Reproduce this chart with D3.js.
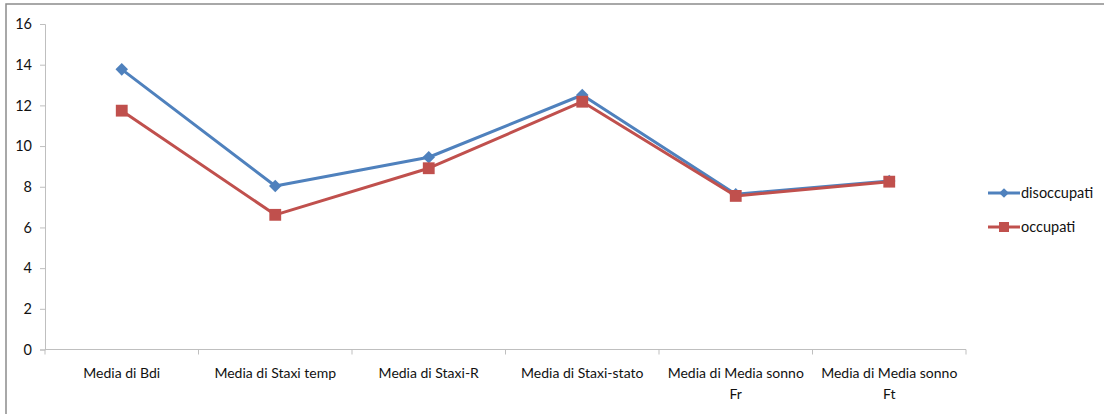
<!DOCTYPE html>
<html><head><meta charset="utf-8">
<script src="https://cdn.jsdelivr.net/npm/d3@7"></script>
<style>
html,body{margin:0;padding:0;background:#fff;}
svg{display:block;}
text{font-family:Lato,"Open Sans",sans-serif;fill:#111;}
</style></head>
<body>
<svg id="chart" width="1104" height="414"></svg>
<script>
const categories = ["Media di Bdi","Media di Staxi temp","Media di Staxi-R","Media di Staxi-stato","Media di Media sonno Fr","Media di Media sonno Ft"];
const disoccupati = [13.77, 8.04, 9.45, 12.51, 7.63, 8.28];
const occupati = [11.74, 6.62, 8.91, 12.18, 7.55, 8.25];
const yTicks = [0,2,4,6,8,10,12,14,16];
const seriesNames = ["disoccupati","occupati"];

(function(){
const svg = d3.select("#chart");
const W = 1104, H = 414;
const pL = 45, pR = 966, pT = 24, pB = 349.5;

svg.append("rect").attr("x",6).attr("y",4).attr("width",W+10).attr("height",H+10)
  .attr("fill","none").attr("stroke","#8c8c8c").attr("stroke-width",1.5);

const x = d3.scaleBand().domain(categories).range([pL,pR]).padding(0);
const y = d3.scaleLinear().domain([0,16]).range([pB,pT]);

const yAxis = svg.append("g").attr("transform",`translate(${pL},0)`)
  .call(d3.axisLeft(y).tickValues(yTicks).tickSize(5).tickPadding(8));
yAxis.select(".domain").attr("stroke","#bfbfbf");
yAxis.selectAll(".tick line").attr("stroke","#bfbfbf");
yAxis.selectAll("text").attr("font-size","14.5px").attr("fill","#111");

const xAxis = svg.append("g").attr("transform",`translate(0,${pB})`)
  .call(d3.axisBottom(x).tickSize(0).tickPadding(0).tickFormat(""));
xAxis.select(".domain").attr("stroke","#bfbfbf").attr("d",`M${pL},0H${pR}`);
const bounds = categories.map(c=>x(c)).concat([pR]);
xAxis.selectAll(".bt").data(bounds).enter().append("line")
  .attr("x1",d=>d).attr("x2",d=>d).attr("y1",0).attr("y2",5).attr("stroke","#bfbfbf");

const maxW = x.bandwidth()-12;
categories.forEach(c=>{
  const cx = x(c)+x.bandwidth()/2;
  const t = svg.append("text").attr("x",cx).attr("y",pB+28)
    .attr("text-anchor","middle").attr("font-size","14px");
  const words = c.split(" ");
  let line = [];
  let ts = t.append("tspan").attr("x",cx).attr("dy",0);
  words.forEach(w=>{
    line.push(w);
    ts.text(line.join(" "));
    if (ts.node().getComputedTextLength() > maxW && line.length>1){
      line.pop(); ts.text(line.join(" "));
      line=[w];
      ts = t.append("tspan").attr("x",cx).attr("dy","1.55em").text(w);
    }
  });
});

const colors = {disoccupati:"#4F81BD", occupati:"#C0504D"};
const data = {disoccupati, occupati};
const lineGen = d3.line().x((d,i)=>x(categories[i])+x.bandwidth()/2).y(d=>y(d));

seriesNames.forEach(s=>{
  svg.append("path").datum(data[s]).attr("d",lineGen).attr("fill","none")
    .attr("stroke",colors[s]).attr("stroke-width",3).attr("stroke-linejoin","round");
});
const diamond = d3.symbol().type(d3.symbolDiamond2).size(100);
const square = d3.symbol().type(d3.symbolSquare).size(140);
svg.selectAll(".md").data(disoccupati).enter().append("path")
  .attr("transform",(d,i)=>`translate(${x(categories[i])+x.bandwidth()/2},${y(d)})`)
  .attr("d",diamond).attr("fill",colors.disoccupati);
svg.selectAll(".ms").data(occupati).enter().append("path")
  .attr("transform",(d,i)=>`translate(${x(categories[i])+x.bandwidth()/2},${y(d)})`)
  .attr("d",square).attr("fill",colors.occupati);

const lg = [{n:"disoccupati",y:193},{n:"occupati",y:227}];
lg.forEach((l,i)=>{
  const g = svg.append("g");
  g.append("line").attr("x1",988).attr("x2",1020).attr("y1",l.y).attr("y2",l.y)
    .attr("stroke",colors[l.n]).attr("stroke-width",3);
  g.append("path").attr("transform",`translate(1004,${l.y})`)
    .attr("d", i===0 ? d3.symbol().type(d3.symbolDiamond2).size(60)() : d3.symbol().type(d3.symbolSquare).size(100)())
    .attr("fill",colors[l.n]);
  g.append("text").attr("x",1021).attr("y",l.y).attr("dy","0.35em")
    .attr("font-size","14.5px").text(l.n);
});
})();
</script>
</body></html>
